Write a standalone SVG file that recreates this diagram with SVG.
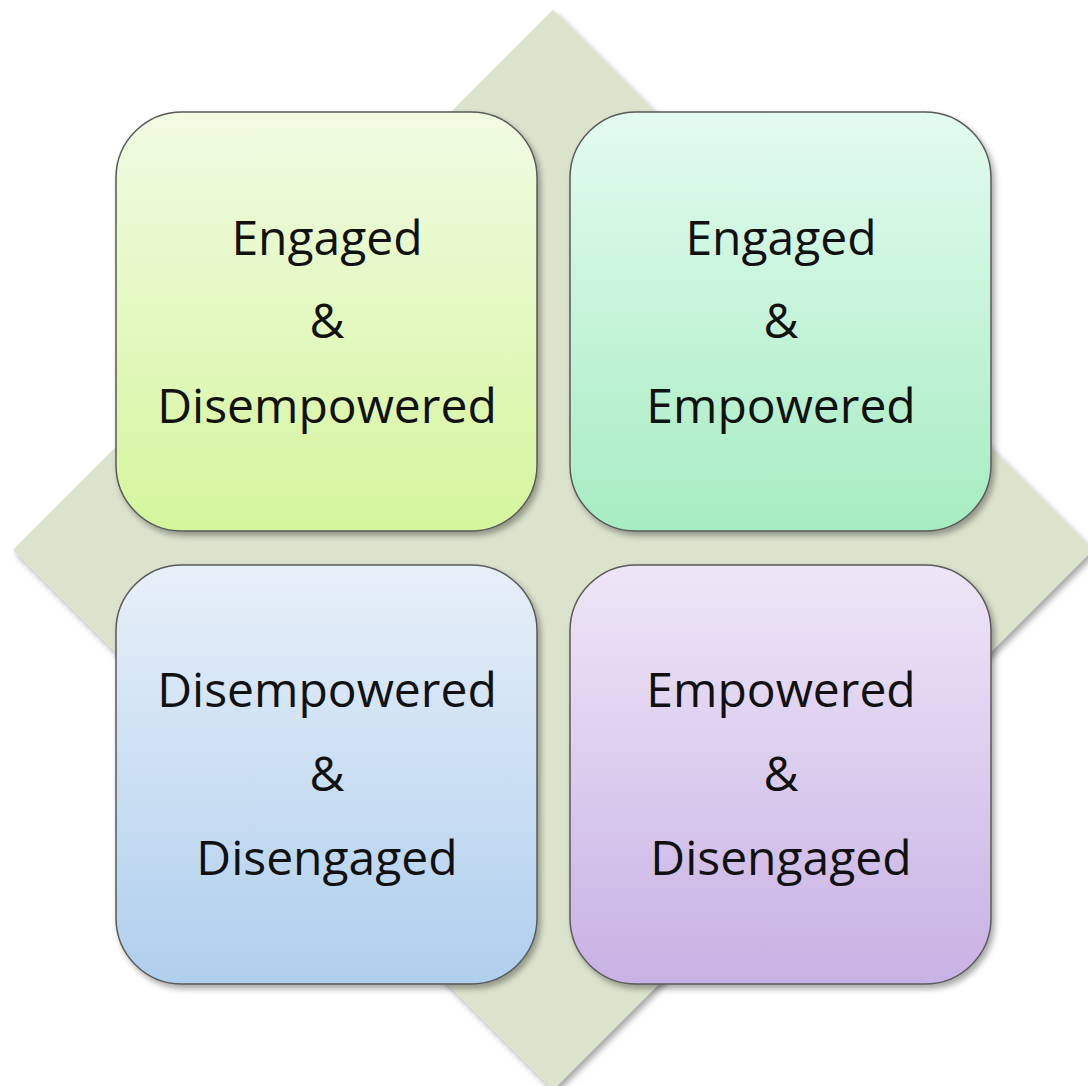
<svg xmlns="http://www.w3.org/2000/svg" width="1088" height="1086" viewBox="0 0 1088 1086">
  <defs>
    <linearGradient id="gTL" x1="0" y1="0" x2="0" y2="1">
      <stop offset="0" stop-color="#f1fbe3"/>
      <stop offset="1" stop-color="#d5f59c"/>
    </linearGradient>
    <linearGradient id="gTR" x1="0" y1="0" x2="0" y2="1">
      <stop offset="0" stop-color="#e3fbef"/>
      <stop offset="1" stop-color="#a6ecc2"/>
    </linearGradient>
    <linearGradient id="gBL" x1="0" y1="0" x2="0" y2="1">
      <stop offset="0" stop-color="#e7eff9"/>
      <stop offset="1" stop-color="#afcfed"/>
    </linearGradient>
    <linearGradient id="gBR" x1="0" y1="0" x2="0" y2="1">
      <stop offset="0" stop-color="#eee6f7"/>
      <stop offset="1" stop-color="#c8b1e4"/>
    </linearGradient>
    <filter id="shadow" x="-10%" y="-10%" width="120%" height="120%">
      <feGaussianBlur in="SourceAlpha" stdDeviation="3"/>
      <feOffset dx="3" dy="4" result="b"/>
      <feComponentTransfer><feFuncA type="linear" slope="0.35"/></feComponentTransfer>
      <feMerge><feMergeNode/><feMergeNode in="SourceGraphic"/></feMerge>
    </filter>
  </defs>
  <style>
    .box { stroke: #5a5a5a; stroke-width: 1.5; filter: url(#shadow); }
    .label { font-family: "Open Sans", "Liberation Sans", sans-serif; font-size: 48px; fill: #111; text-anchor: middle; }
  </style>

  <!-- background diamond -->
  <polygon points="553,10 1093,550 553,1090 13,550" fill="#dce3cd" filter="url(#shadow)"/>

  <g id="node-engaged-disempowered">
    <rect class="box" x="116" y="112" width="421" height="419" rx="66" fill="url(#gTL)"/>
    <text class="label" x="327" y="255">Engaged</text>
    <text class="label" x="327" y="338">&amp;</text>
    <text class="label" x="327" y="423">Disempowered</text>
  </g>

  <g id="node-engaged-empowered">
    <rect class="box" x="570" y="112" width="421" height="419" rx="66" fill="url(#gTR)"/>
    <text class="label" x="781" y="255">Engaged</text>
    <text class="label" x="781" y="338">&amp;</text>
    <text class="label" x="781" y="423">Empowered</text>
  </g>

  <g id="node-disempowered-disengaged">
    <rect class="box" x="116" y="565" width="421" height="419" rx="66" fill="url(#gBL)"/>
    <text class="label" x="327" y="707">Disempowered</text>
    <text class="label" x="327" y="791">&amp;</text>
    <text class="label" x="327" y="875">Disengaged</text>
  </g>

  <g id="node-empowered-disengaged">
    <rect class="box" x="570" y="565" width="421" height="419" rx="66" fill="url(#gBR)"/>
    <text class="label" x="781" y="707">Empowered</text>
    <text class="label" x="781" y="791">&amp;</text>
    <text class="label" x="781" y="875">Disengaged</text>
  </g>

  <g id="connectors"/>
</svg>
